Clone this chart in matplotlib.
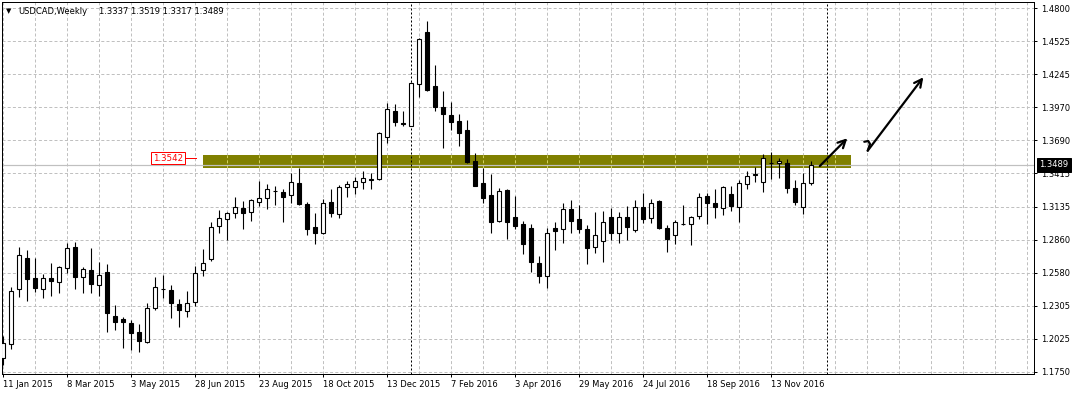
import matplotlib
matplotlib.use('Agg')
import matplotlib.pyplot as plt
import matplotlib.transforms as mtransforms
from matplotlib.patches import Rectangle
import numpy as np

plt.rcParams['font.family'] = ['DejaVu Sans']
plt.rcParams['lines.scale_dashes'] = False

# ---------------- data ----------------
symbol_title = "USDCAD,Weekly"
title_ohlc = "1.3337 1.3519 1.3317 1.3489"

opens = [1.1866, 1.1981, 1.2442, 1.2702, 1.2535, 1.2442, 1.2535, 1.2501, 1.2619, 1.2800,
         1.2543, 1.2604, 1.2478, 1.2588, 1.2218, 1.2191, 1.2157, 1.2082, 1.2003, 1.2283,
         1.2440, 1.2437, 1.2317, 1.2260, 1.2338, 1.2604, 1.2694, 1.2976, 1.3035, 1.3085,
         1.3122, 1.3088, 1.3177, 1.3211, 1.3265, 1.3256, 1.3231, 1.3332, 1.3158, 1.2965,
         1.2912, 1.3172, 1.3072, 1.3303, 1.3303, 1.3340, 1.3363, 1.3368, 1.3718, 1.3938,
         1.3840, 1.3815, 1.4162, 1.4604, 1.4148, 1.3969, 1.3905, 1.3852, 1.3779, 1.3519,
         1.3337, 1.3234, 1.3018, 1.3276, 1.3052, 1.2990, 1.2959, 1.2661, 1.2556, 1.2954,
         1.2946, 1.3114, 1.3030, 1.2946, 1.2795, 1.2845, 1.3047, 1.2912, 1.3047, 1.2940,
         1.3131, 1.3038, 1.3183, 1.2954, 1.2898, 1.2988, 1.2988, 1.3058, 1.3225, 1.3164,
         1.3122, 1.3239, 1.3131, 1.3323, 1.3405, 1.3345, 1.3502, 1.3500, 1.3500, 1.3290,
         1.3135, 1.3337]
highs = [1.2051, 1.2459, 1.2800, 1.2772, 1.2702, 1.2568, 1.2661, 1.2635, 1.2833, 1.2839,
         1.2627, 1.2791, 1.2674, 1.2652, 1.2311, 1.2213, 1.2185, 1.2151, 1.2325, 1.2548,
         1.2562, 1.2478, 1.2359, 1.2428, 1.2638, 1.2778, 1.3005, 1.3108, 1.3094, 1.3214,
         1.3183, 1.3200, 1.3351, 1.3323, 1.3309, 1.3284, 1.3421, 1.3463, 1.3172, 1.3080,
         1.3200, 1.3284, 1.3317, 1.3354, 1.3382, 1.3435, 1.3415, 1.3765, 1.4008, 1.3997,
         1.3938, 1.4184, 1.4553, 1.4693, 1.4324, 1.4106, 1.4011, 1.3913, 1.3863, 1.3588,
         1.3458, 1.3407, 1.3295, 1.3284, 1.3225, 1.3018, 1.2990, 1.2724, 1.2954, 1.3010,
         1.3169, 1.3192, 1.3150, 1.2982, 1.3088, 1.3099, 1.3122, 1.3088, 1.3141, 1.3192,
         1.3248, 1.3198, 1.3190, 1.2982, 1.3024, 1.3150, 1.3058, 1.3248, 1.3253, 1.3284,
         1.3312, 1.3309, 1.3359, 1.3435, 1.3466, 1.3575, 1.3597, 1.3541, 1.3536, 1.3359,
         1.3415, 1.3519]
lows = [1.1808, 1.1939, 1.2380, 1.2347, 1.2422, 1.2367, 1.2389, 1.2409, 1.2577, 1.2445,
        1.2409, 1.2409, 1.2389, 1.2087, 1.2101, 1.1947, 1.1933, 1.1919, 1.1995, 1.2269,
        1.2367, 1.2204, 1.2129, 1.2213, 1.2303, 1.2556, 1.2682, 1.2917, 1.2856, 1.3043,
        1.2948, 1.3015, 1.3141, 1.3114, 1.3150, 1.3010, 1.3169, 1.3150, 1.2898, 1.2822,
        1.2905, 1.3052, 1.3038, 1.3219, 1.3242, 1.3281, 1.3281, 1.3359, 1.3672, 1.3815,
        1.3812, 1.3810, 1.4058, 1.4106, 1.3938, 1.3630, 1.3779, 1.3647, 1.3505, 1.3305,
        1.3164, 1.2917, 1.3010, 1.2862, 1.2948, 1.2739, 1.2590, 1.2498, 1.2456, 1.2772,
        1.2833, 1.2912, 1.2912, 1.2652, 1.2750, 1.2674, 1.2856, 1.2828, 1.2856, 1.2926,
        1.2996, 1.3001, 1.2946, 1.2758, 1.2822, 1.2982, 1.2814, 1.3030, 1.2990, 1.3043,
        1.3066, 1.3099, 1.3005, 1.3281, 1.3340, 1.3261, 1.3370, 1.3374, 1.3253, 1.3150,
        1.3074, 1.3317]
closes = [1.1989, 1.2428, 1.2730, 1.2526, 1.2451, 1.2535, 1.2515, 1.2627, 1.2786, 1.2548,
          1.2610, 1.2484, 1.2562, 1.2246, 1.2171, 1.2166, 1.2073, 1.2011, 1.2283, 1.2459,
          1.2446, 1.2325, 1.2269, 1.2325, 1.2577, 1.2661, 1.2968, 1.3043, 1.3085, 1.3135,
          1.3085, 1.3192, 1.3206, 1.3281, 1.3269, 1.3219, 1.3340, 1.3156, 1.2946, 1.2912,
          1.3164, 1.3080, 1.3303, 1.3323, 1.3351, 1.3374, 1.3366, 1.3751, 1.3953, 1.3849,
          1.3827, 1.4171, 1.4542, 1.4115, 1.3974, 1.3911, 1.3844, 1.3756, 1.3513, 1.3312,
          1.3211, 1.3005, 1.3267, 1.3010, 1.2976, 1.2820, 1.2674, 1.2556, 1.2912, 1.2934,
          1.3114, 1.3018, 1.2946, 1.2786, 1.2898, 1.3005, 1.2912, 1.3047, 1.2968, 1.3131,
          1.3030, 1.3169, 1.2954, 1.2864, 1.3005, 1.2992, 1.3047, 1.3214, 1.3164, 1.3132,
          1.3298, 1.3141, 1.3332, 1.3396, 1.3409, 1.3541, 1.3498, 1.3519, 1.3290, 1.3177,
          1.3332, 1.3489]

date_tick_index = [0, 8, 16, 24, 32, 40, 48, 56, 64, 72, 80, 88, 96]
date_tick_labels = ["11 Jan 2015", "8 Mar 2015", "3 May 2015", "28 Jun 2015", "23 Aug 2015",
                    "18 Oct 2015", "13 Dec 2015", "7 Feb 2016", "3 Apr 2016", "29 May 2016",
                    "24 Jul 2016", "18 Sep 2016", "13 Nov 2016"]

price_grid = [1.1750, 1.20273, 1.23045, 1.25818, 1.28591, 1.31364, 1.34136,
              1.36909, 1.39682, 1.42455, 1.45227, 1.4800]
price_labels = ["1.1750", "1.2025", "1.2305", "1.2580", "1.2860", "1.3135", "1.3415",
                "1.3690", "1.3970", "1.4245", "1.4525", "1.4800"]

year_separators = [51, 103]
bid_price = 1.3489
zone_start, zone_end = 25, 106
zone_low, zone_high = 1.3463, 1.3569
level_label = 1.3542

arrow1_start = (102.1, 1.3476)
arrow1_end = (105.54, 1.3709)
squiggle_i = [107.66, 108.16, 108.375, 108.09]
squiggle_p = [1.3680, 1.3686, 1.3661, 1.3605]
arrow2_end = (115.04, 1.4221)

# ---------------- figure ----------------
W, H, DPI = 1074, 395, 100
PX = 72.0 / DPI  # one pixel in points
fig = plt.figure(figsize=(W / DPI, H / DPI), dpi=DPI)
fig.patch.set_facecolor('white')
L, R, T, B = 2, 1034, 2, 374
ax = fig.add_axes([L / W, 1 - B / H, (R - L) / W, (B - T) / H])
ax.set_facecolor('white')

x0_px, step_px = 3.0, 8.0
ax.set_xlim((L - x0_px) / step_px, (R - x0_px) / step_px)
slope = (1.4800 - 1.1750) / (371.7 - 8.3)
ax.set_ylim(1.4800 - slope * (B - 8.3), 1.4800 + slope * (8.3 - T))

grid_col = '#c0c0c0'
dash = (0, (3.0 * PX, 2.2 * PX))
for p in price_grid:
    ax.axhline(p, color=grid_col, lw=PX, ls=dash, zorder=1)
vgrid = np.arange(0, 129, 4)
for v in vgrid:
    ax.axvline(v, color=grid_col, lw=PX, ls=dash, zorder=1)

# support/resistance zone
ax.add_patch(Rectangle((zone_start, zone_low), zone_end - zone_start, zone_high - zone_low,
                       facecolor='#808000', edgecolor='none', zorder=1.5))
for v in vgrid:
    if zone_start < v < zone_end:
        ax.plot([v, v], [zone_low, zone_high], color='#d0d060', lw=PX, ls=dash, zorder=1.6)

# bid line
ax.axhline(bid_price, color='#c0c0c0', lw=1.2 * PX, zorder=1.7)

# year separators
for s in year_separators:
    ax.axvline(s, color='black', lw=PX, ls=(0, (2.0 * PX, 2.0 * PX)), zorder=1.8)

# candles
idx = np.arange(len(opens))
ax.vlines(idx, lows, highs, color='black', lw=1.1 * PX, zorder=3)
bw = 0.6
for i, (o, c) in enumerate(zip(opens, closes)):
    bull = c >= o
    ax.add_patch(Rectangle((i - bw / 2, min(o, c)), bw, max(abs(c - o), 1e-6),
                           facecolor='white' if bull else 'black', edgecolor='black',
                           lw=1.1 * PX, zorder=4))

# level label
ax.text(22.54, level_label, f"{level_label:.4f}", ha='right', va='center', color='red',
        fontsize=6.2, zorder=6,
        bbox=dict(boxstyle='square,pad=0.2', fc='white', ec='red', lw=PX))
ax.plot([22.8, 24.1], [level_label, level_label], color='red', lw=PX, zorder=6)

# hand drawn arrows
aprops = dict(arrowstyle='->,head_length=0.55,head_width=0.28', lw=1.6, color='black',
              shrinkA=0, shrinkB=0)
ax.annotate('', xy=arrow1_end, xytext=arrow1_start, arrowprops=aprops, zorder=7)
ax.plot(squiggle_i, squiggle_p, color='black', lw=1.6, zorder=7, solid_capstyle='round')
ax.annotate('', xy=arrow2_end, xytext=(squiggle_i[-1], squiggle_p[-1]), arrowprops=aprops,
            zorder=7)

# axes / ticks
for sp in ax.spines.values():
    sp.set_color('black')
    sp.set_linewidth(PX)
ax.yaxis.tick_right()
ax.set_yticks(price_grid)
ax.set_yticklabels(price_labels)
ax.set_xticks(date_tick_index)
ax.set_xticklabels(date_tick_labels)
for lab in ax.get_xticklabels():
    lab.set_ha('left')
ax.tick_params(axis='x', direction='out', length=3 * PX, width=PX, pad=2.0,
               labelsize=6.0, colors='black')
ax.tick_params(axis='y', direction='out', length=3 * PX, width=PX, pad=2.6,
               labelsize=6.0, colors='black')

# bid price tag on the right axis
trans = mtransforms.blended_transform_factory(ax.transAxes, ax.transData)
ax.text(1.0 + 5.5 / (R - L), bid_price, f"{bid_price:.4f}", transform=trans, ha='left',
        va='center', color='white', fontsize=6.0, zorder=10, clip_on=False,
        bbox=dict(boxstyle='square,pad=0.3', fc='black', ec='black', lw=PX))

# title
fig.text(6 / W, 1 - 11 / H, "\u25bc", fontsize=5.0, va='center', ha='left', color='black')
fig.text(18 / W, 1 - 11 / H, symbol_title, fontsize=6.0, va='center', ha='left', color='black')
fig.text(99 / W, 1 - 11 / H, title_ohlc, fontsize=6.0, va='center', ha='left', color='black')

fig.savefig('out.png', dpi=DPI, facecolor='white')
